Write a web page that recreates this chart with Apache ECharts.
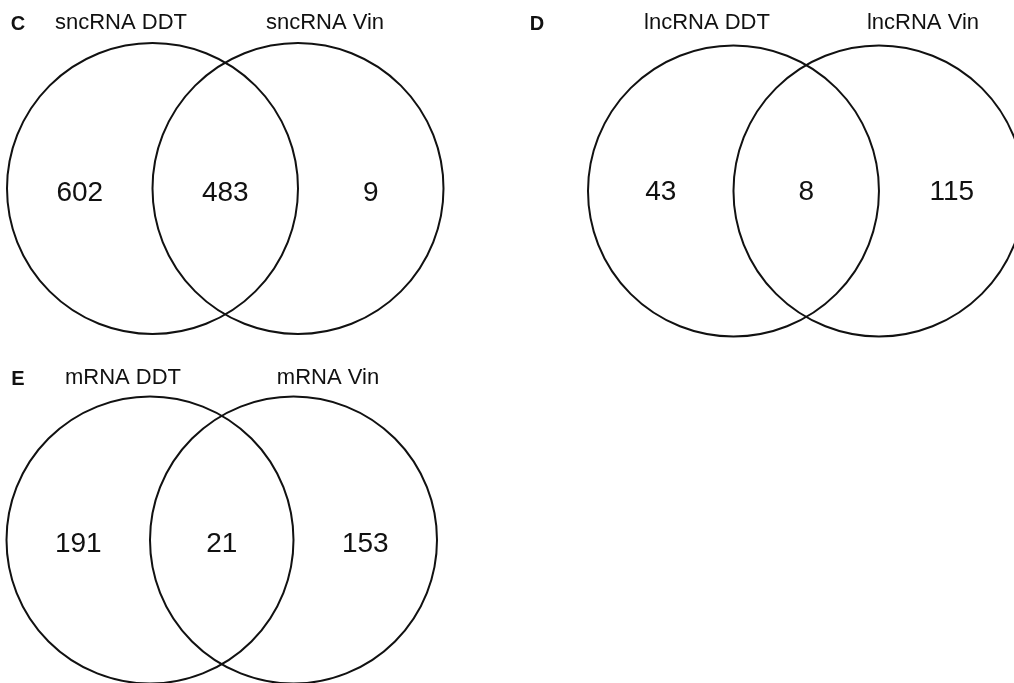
<!DOCTYPE html>
<html>
<head>
<meta charset="utf-8">
<style>
  html, body { margin: 0; padding: 0; background: #ffffff; }
  #chart { width: 1014px; height: 683px; }
</style>
<script src="https://cdn.jsdelivr.net/npm/echarts@6/dist/echarts.min.js"></script>
</head>
<body>
<div id="chart"></div>
<script>
// Panel letters and set names
const panelLetters = ['C', 'D', 'E'];
const leftSetNames  = ['sncRNA DDT', 'lncRNA DDT', 'mRNA DDT'];
const rightSetNames = ['sncRNA Vin', 'lncRNA Vin', 'mRNA Vin'];

// Region counts: [left only, shared, right only]
const sncRNACounts = [602, 483, 9];
const lncRNACounts = [43, 8, 115];
const mRNACounts   = [191, 21, 153];

const panelCounts = [sncRNACounts, lncRNACounts, mRNACounts];

// Venn layout in circle-radius units: two unit circles one radius apart
const SET_CENTERS = [0, 1];
const REGION_X = [-0.5, 0.5, 1.5];

const FONT = '"Liberation Sans", Arial, Helvetica, sans-serif';
const INK = '#111111';

// Pixel frame of each panel's coordinate box; xMax trims the box at the page edge
const panelBoxes = [
  { left: 7,   top: 43,  width: 436.5, height: 291, xMax: 2 },
  { left: 588, top: 46,  width: 421.9, height: 290, xMax: 1.9 },
  { left: 6.5, top: 397, width: 430.5, height: 286, xMax: 2 }
];

// Header text placement and count-label nudge per panel
const headerLayout = [
  { letterX: 18,  leftX: 121, rightX: 325, y: 23,  countDy: 5 },
  { letterX: 537, leftX: 707, rightX: 923, y: 23,  countDy: 1 },
  { letterX: 18,  leftX: 123, rightX: 328, y: 378, countDy: 4 }
];

const chart = echarts.init(document.getElementById('chart'), null, { renderer: 'canvas' });

const grids = [], xAxes = [], yAxes = [], series = [], graphics = [];

panelCounts.forEach(function (counts, i) {
  const box = panelBoxes[i];
  const h = headerLayout[i];
  grids.push({ left: box.left, top: box.top, width: box.width, height: box.height, containLabel: false });
  xAxes.push({ type: 'value', gridIndex: i, min: -1, max: box.xMax, show: false });
  yAxes.push({ type: 'value', gridIndex: i, min: -1, max: 1, show: false });

  // The two set circles
  series.push({
    type: 'custom',
    xAxisIndex: i,
    yAxisIndex: i,
    silent: true,
    clip: false,
    data: SET_CENTERS.map(function (c) { return [c, 0]; }),
    renderItem: function (params, api) {
      const p = api.coord([api.value(0), api.value(1)]);
      const r = api.size([1, 0])[0];
      return {
        type: 'circle',
        shape: { cx: p[0], cy: p[1], r: r },
        style: { fill: 'none', stroke: INK, lineWidth: 2 }
      };
    }
  });

  // Region counts
  series.push({
    type: 'custom',
    xAxisIndex: i,
    yAxisIndex: i,
    silent: true,
    clip: false,
    data: counts.map(function (v, k) { return [REGION_X[k], 0, v]; }),
    renderItem: function (params, api) {
      const p = api.coord([api.value(0), api.value(1)]);
      return {
        type: 'text',
        x: p[0],
        y: p[1] + h.countDy,
        style: {
          text: String(api.value(2)),
          fill: INK,
          fontSize: 28,
          fontFamily: FONT,
          align: 'center',
          verticalAlign: 'middle'
        }
      };
    }
  });

  graphics.push({
    type: 'text', x: h.letterX, y: h.y + 1,
    style: { text: panelLetters[i], fill: INK, font: 'bold 20px ' + FONT,
             align: 'center', verticalAlign: 'middle', textAlign: 'center', textVerticalAlign: 'middle' }
  });
  graphics.push({
    type: 'text', x: h.leftX, y: h.y,
    style: { text: leftSetNames[i], fill: INK, font: '22px ' + FONT,
             align: 'center', verticalAlign: 'middle', textAlign: 'center', textVerticalAlign: 'middle' }
  });
  graphics.push({
    type: 'text', x: h.rightX, y: h.y,
    style: { text: rightSetNames[i], fill: INK, font: '22px ' + FONT,
             align: 'center', verticalAlign: 'middle', textAlign: 'center', textVerticalAlign: 'middle' }
  });
});

chart.setOption({
  backgroundColor: '#ffffff',
  animation: false,
  grid: grids,
  xAxis: xAxes,
  yAxis: yAxes,
  series: series,
  graphic: graphics
});
</script>
</body>
</html>
